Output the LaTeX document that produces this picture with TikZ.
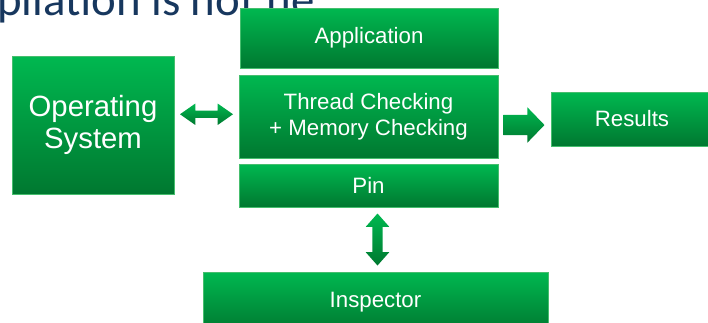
\documentclass[tikz,border=0pt]{standalone}
\usepackage{fontspec}
\setmainfont{Liberation Sans}
\newfontfamily\titlefont{Carlito}
\usepackage{tikz}
\usetikzlibrary{calc}
\usetikzlibrary{shapes.arrows}
\definecolor{gbright}{RGB}{0,184,80}
\definecolor{gdark}{RGB}{0,120,48}
\definecolor{gline}{RGB}{70,190,110}
\definecolor{titleblue}{RGB}{23,55,94}
\newdimen\pxu \pxu=0.03cm
\tikzset{
  greenbox/.style={rectangle, top color=gbright, bottom color=gdark, draw=gline, line width=0.4pt,
    text=white, align=center, inner sep=0pt, font=\fontsize{19}{22.5}\selectfont},
  greenarrow/.style={top color=gbright, bottom color=gdark, draw=none, inner xsep=0pt}
}

\begin{document}
\begin{tikzpicture}[x=0.03cm,y=-0.03cm]
\useasboundingbox (0,0) rectangle (708,322);
% title line of the slide, cut by the frame
\node[anchor=base west, inner sep=0pt, text=titleblue, font=\titlefont\fontsize{40}{42}\selectfont] (title) at (-3,15) {pilation is not ne};

% the tool stack
\node[greenbox, minimum width=258\pxu, minimum height=60\pxu] (app) at (369,38) {Application};
\node[greenbox, minimum width=259\pxu, minimum height=83\pxu] (check) at (368.5,116.5) {Thread Checking\\+ Memory Checking};
\node[greenbox, minimum width=259\pxu, minimum height=43\pxu] (pin) at (368.5,185.5) {Pin};

% outside boxes
\node[greenbox, minimum width=162\pxu, minimum height=138\pxu, font=\fontsize{25}{27.5}\selectfont] (os) at (93,125) {Operating\\System};
\node[greenbox, minimum width=162\pxu, minimum height=54\pxu] (res) at (632,119) {Results};
\node[greenbox, minimum width=345\pxu, minimum height=60\pxu] (insp) at (375.5,302) {Inspector};

% block arrows between the boxes
\node[greenarrow, double arrow, minimum height=53\pxu, inner ysep=3.5\pxu,
  double arrow head extend=7\pxu, double arrow tip angle=70] (osarrow) at ($(os.east)!0.5!(check.west)+(0,-6.5)$) {};
\node[greenarrow, single arrow, minimum height=41\pxu, inner ysep=10\pxu, anchor=tail,
  single arrow head extend=7.5\pxu, single arrow tip angle=92] (resarrow) at ($(check.east)+(5,8.5)$) {};
\node[greenarrow, double arrow, rotate=90, minimum height=52\pxu, inner ysep=5\pxu,
  double arrow head extend=6.5\pxu, double arrow tip angle=83] (pinarrow) at ($(pin.south)!0.5!(insp.north)+(5.5,0)$) {};
\end{tikzpicture}
\end{document}
